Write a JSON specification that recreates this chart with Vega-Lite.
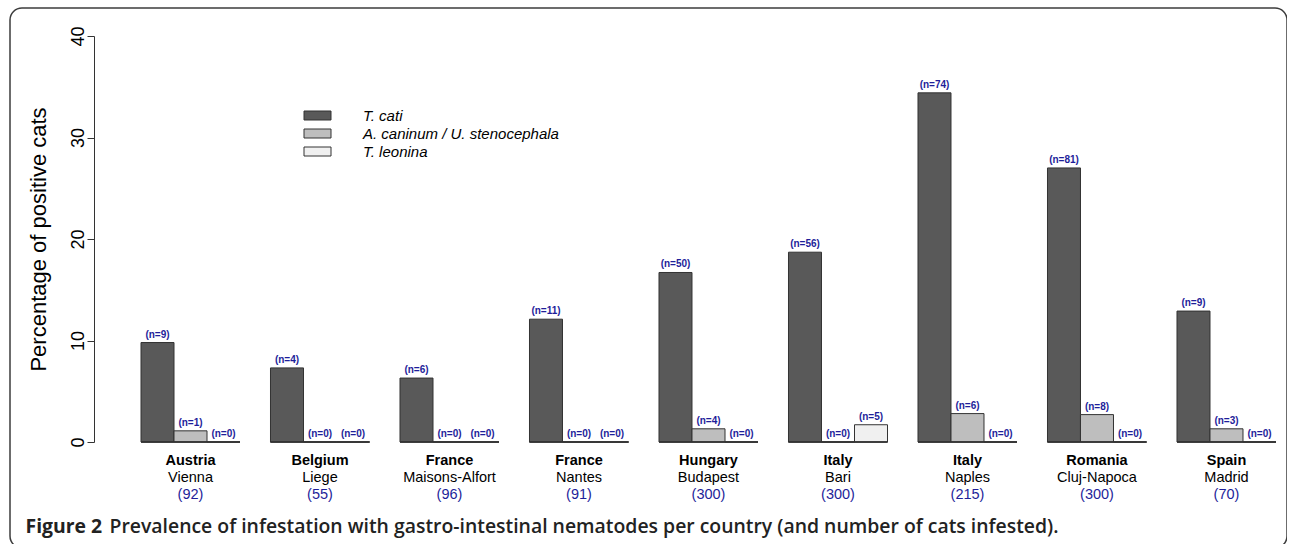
{
  "$schema": "https://vega.github.io/schema/vega-lite/v6.json",
  "width": 1277,
  "height": 540,
  "autosize": {"type": "none"},
  "padding": {"left": 10, "top": 8, "right": 0, "bottom": 0},
  "background": "white",
  "config": {
    "font": "Liberation Sans",
    "view": {"stroke": "#3c3c3c", "strokeWidth": 1.5, "cornerRadius": 12},
    "axis": {"grid": false}
  },
  "data": {
    "values": [
      {"site": "Austria|Vienna|92", "species": "T. cati", "pct": 9.8, "n": 9},
      {"site": "Austria|Vienna|92", "species": "A. caninum / U. stenocephala", "pct": 1.1, "n": 1},
      {"site": "Austria|Vienna|92", "species": "T. leonina", "pct": 0, "n": 0},
      {"site": "Belgium|Liege|55", "species": "T. cati", "pct": 7.3, "n": 4},
      {"site": "Belgium|Liege|55", "species": "A. caninum / U. stenocephala", "pct": 0, "n": 0},
      {"site": "Belgium|Liege|55", "species": "T. leonina", "pct": 0, "n": 0},
      {"site": "France|Maisons-Alfort|96", "species": "T. cati", "pct": 6.3, "n": 6},
      {"site": "France|Maisons-Alfort|96", "species": "A. caninum / U. stenocephala", "pct": 0, "n": 0},
      {"site": "France|Maisons-Alfort|96", "species": "T. leonina", "pct": 0, "n": 0},
      {"site": "France|Nantes|91", "species": "T. cati", "pct": 12.1, "n": 11},
      {"site": "France|Nantes|91", "species": "A. caninum / U. stenocephala", "pct": 0, "n": 0},
      {"site": "France|Nantes|91", "species": "T. leonina", "pct": 0, "n": 0},
      {"site": "Hungary|Budapest|300", "species": "T. cati", "pct": 16.7, "n": 50},
      {"site": "Hungary|Budapest|300", "species": "A. caninum / U. stenocephala", "pct": 1.3, "n": 4},
      {"site": "Hungary|Budapest|300", "species": "T. leonina", "pct": 0, "n": 0},
      {"site": "Italy|Bari|300", "species": "T. cati", "pct": 18.7, "n": 56},
      {"site": "Italy|Bari|300", "species": "A. caninum / U. stenocephala", "pct": 0, "n": 0},
      {"site": "Italy|Bari|300", "species": "T. leonina", "pct": 1.7, "n": 5},
      {"site": "Italy|Naples|215", "species": "T. cati", "pct": 34.4, "n": 74},
      {"site": "Italy|Naples|215", "species": "A. caninum / U. stenocephala", "pct": 2.8, "n": 6},
      {"site": "Italy|Naples|215", "species": "T. leonina", "pct": 0, "n": 0},
      {"site": "Romania|Cluj-Napoca|300", "species": "T. cati", "pct": 27.0, "n": 81},
      {"site": "Romania|Cluj-Napoca|300", "species": "A. caninum / U. stenocephala", "pct": 2.7, "n": 8},
      {"site": "Romania|Cluj-Napoca|300", "species": "T. leonina", "pct": 0, "n": 0},
      {"site": "Spain|Madrid|70", "species": "T. cati", "pct": 12.9, "n": 9},
      {"site": "Spain|Madrid|70", "species": "A. caninum / U. stenocephala", "pct": 1.3, "n": 3},
      {"site": "Spain|Madrid|70", "species": "T. leonina", "pct": 0, "n": 0}
    ]
  },
  "layer": [
    {
      "mark": {"type": "bar", "stroke": "#333333", "strokeWidth": 1, "opacity": 1},
      "encoding": {
        "x": {
          "field": "site", "type": "nominal", "sort": null,
          "scale": {"range": [131, 1266], "paddingInner": 0.2355, "paddingOuter": 0},
          "axis": {"orient": "bottom", "offset": -106, "domain": false, "ticks": false, "tickSize": 0,
            "labelExpr": "split(datum.value,'|')[0]", "labelFontWeight": "bold", "labelFontSize": 14.5,
            "labelColor": "#000000", "labelPadding": 22, "labelBaseline": "alphabetic", "labelAngle": 0,
            "labelOverlap": false, "title": null}
        },
        "xOffset": {"field": "species", "type": "nominal", "sort": null, "scale": {"paddingInner": 0, "paddingOuter": 0}},
        "y": {
          "field": "pct", "type": "quantitative",
          "scale": {"domain": [0, 40], "range": [434, 28], "nice": false, "zero": false},
          "axis": {"orient": "left", "offset": -84, "values": [0, 10, 20, 30, 40], "tickSize": 7,
            "labelAngle": -90, "labelAlign": "center", "labelBaseline": "alphabetic", "labelPadding": 4,
            "labelFontSize": 18, "labelColor": "#000000", "labelFlush": false,
            "domainColor": "#333333", "tickColor": "#333333",
            "title": "Percentage of positive cats", "titleFontSize": 22, "titleFontWeight": "normal",
            "titleColor": "#000000", "titleX": -49, "titleY": 231, "titleAngle": -90,
            "titleAlign": "center", "titleBaseline": "alphabetic"}
        },
        "fill": {
          "field": "species", "type": "nominal", "sort": null,
          "scale": {"domain": ["T. cati", "A. caninum / U. stenocephala", "T. leonina"], "range": ["#595959", "#bebebe", "#f0f0f0"]},
          "legend": {"orient": "none", "legendX": 300, "legendY": 100, "title": null,
            "symbolType": "M-3,-1H3V1H-3Z", "symbolSize": 81, "symbolStrokeColor": "#333333", "symbolStrokeWidth": 1,
            "labelFontStyle": "italic", "labelFontSize": 15, "labelColor": "#000000", "labelOffset": 38,
            "rowPadding": 2, "padding": 0, "symbolOpacity": 1, "labelLimit": 400}
        }
      }
    },
    {
      "mark": {"type": "text", "baseline": "alphabetic", "dy": -5, "fontWeight": "bold", "fontSize": 10, "color": "#1e1e9a",
        "text": {"expr": "'(n=' + datum.n + ')'"}},
      "encoding": {
        "x": {
          "field": "site", "type": "nominal", "sort": null,
          "axis": {"orient": "bottom", "offset": -106, "domain": false, "ticks": false, "tickSize": 0,
            "labelExpr": "split(datum.value,'|')[1]", "labelFontSize": 14.5,
            "labelColor": "#000000", "labelPadding": 39, "labelBaseline": "alphabetic", "labelAngle": 0,
            "labelOverlap": false,
            "title": "Figure 2", "titleFont": "Open Sans", "titleFontSize": 19.4, "titleFontWeight": "bold",
            "titleColor": "#222222", "titleX": 15, "titleY": 90, "titleAlign": "left", "titleBaseline": "alphabetic"}
        },
        "xOffset": {"field": "species", "type": "nominal", "sort": null},
        "y": {"field": "pct", "type": "quantitative"}
      }
    },
    {
      "mark": {"type": "tick", "orient": "horizontal", "size": 99, "thickness": 1, "color": "#333333", "opacity": 1},
      "encoding": {
        "x": {
          "field": "site", "type": "nominal", "sort": null,
          "axis": {"orient": "bottom", "offset": -106, "domain": false, "ticks": false, "tickSize": 0,
            "labelExpr": "'(' + split(datum.value,'|')[2] + ')'", "labelFontSize": 14.5,
            "labelColor": "#1e1e9a", "labelPadding": 56, "labelBaseline": "alphabetic", "labelAngle": 0,
            "labelOverlap": false,
            "title": "Prevalence of infestation with gastro-intestinal nematodes per country (and number of cats infested).",
            "titleFont": "Open Sans", "titleFontSize": 19.4, "titleFontWeight": 600,
            "titleColor": "#222222", "titleX": 99, "titleY": 90, "titleAlign": "left", "titleBaseline": "alphabetic",
            "titleLimit": 0}
        },
        "y": {"datum": 0, "type": "quantitative"}
      }
    }
  ],
  "resolve": {"axis": {"x": "independent"}}
}
